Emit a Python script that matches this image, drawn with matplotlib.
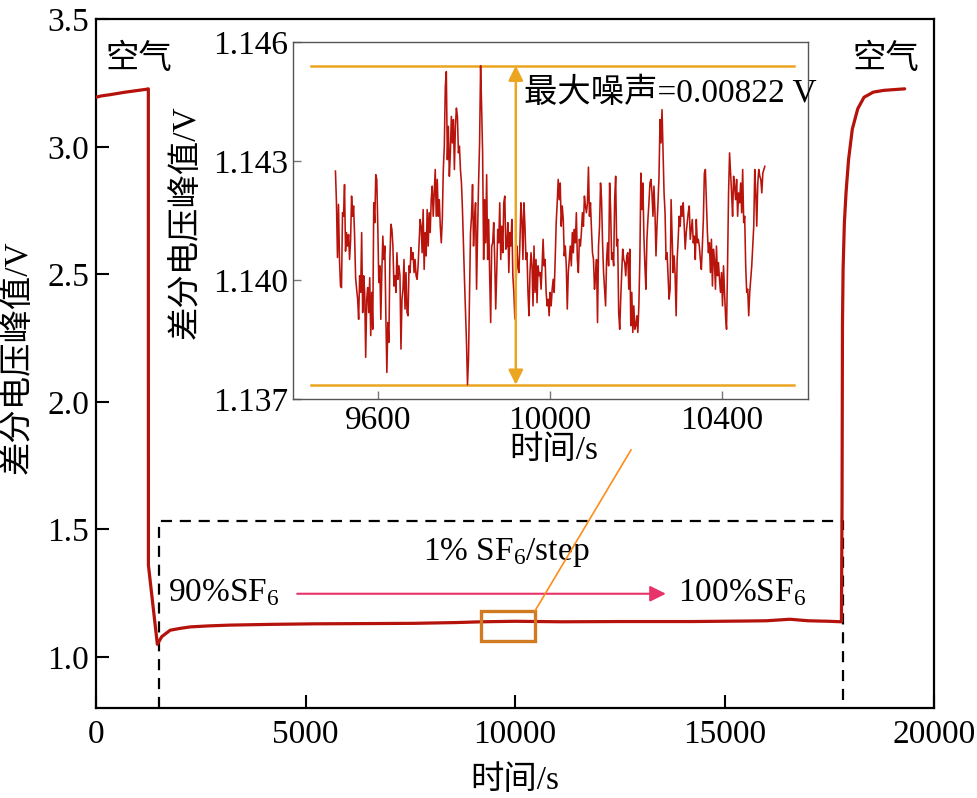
import numpy as np
import matplotlib
matplotlib.use("Agg")
import matplotlib.pyplot as plt
from matplotlib.patches import Rectangle

# ---------------- data ----------------
# main trace (time s, differential peak voltage V)
main_t = [0, 120, 330, 700, 1190, 1248, 1250, 1463, 1570, 1770, 2000, 2250, 2700, 3200,
          4200, 5200, 6500, 7600, 8600, 9200, 10000, 11100, 12500, 14250, 15500, 16000,
          16560, 17000, 17500, 17790, 17805, 17815, 17830, 17860, 17900, 17960, 18050,
          18180, 18330, 18550, 18800, 19300]
main_v = [3.195, 3.200, 3.205, 3.215, 3.226, 3.228, 1.360, 1.050, 1.080, 1.105, 1.112,
          1.118, 1.122, 1.125, 1.128, 1.130, 1.131, 1.132, 1.135, 1.138, 1.140, 1.138,
          1.139, 1.139, 1.141, 1.142, 1.148, 1.142, 1.140, 1.138, 1.60, 2.30, 2.52, 2.70,
          2.82, 2.95, 3.07, 3.15, 3.195, 3.215, 3.222, 3.228]

# inset: noise around 1.140 V, read in mV relative to 1.140 V, 9500 s .. 10500 s
noise_seg1 = [2.75, 1.95, 0.57, 1.91, 0.52, -0.15, -0.19, 1.70, 1.61, 2.41, 0.73, 1.20, 0.86, 1.15,
              0.52, 0.99, 2.12, 1.61, 1.87, 1.11, 0.06, -0.23, -0.48, -0.99, 0.11, -0.31, 1.20,
              -0.82, 0.11, -0.31, -1.95, -0.48, -0.19, -0.82, 0.06, -1.40, -0.31, -1.24, 1.95,
              1.45, 2.66, 2.54, 1.36, -0.06, 0.36, -0.99, 0.19, 1.11, 0.52, 0.86, -0.90, -2.33,
              -1.07, -1.57, 0.52, 1.41, 1.28, 0.86, -0.15, 0.11, -0.31, 0.69, 0.02, 0.36, 0.11,
              -1.74, -0.48, -0.23, 0.52, -0.73, 0.19, -0.82, -0.90, 0.36, 0.19, 0.82, 0.52, 0.69,
              0.19, 0.52, 0.11, 0.02, 0.36, 0.94, 1.53, 1.36, 0.69, 1.78, 0.27, 1.20, 0.61, 1.78,
              0.86, 1.70, 1.20, 2.03, 2.37, 1.61, 2.20, 2.79, 1.61, 2.54]
noise_seg2 = [1.61, 2.03, 1.36, 0.94, 1.53, 2.79, 3.38, 4.89, 5.26, 3.04, 3.88, 2.62, 3.21, 4.13,
              3.46, 4.05, 2.79, 3.88, 4.34, 4.13, 3.21, 3.38, 2.79, 2.45, 1.78, 0.86, 0.02, -0.82,
              -1.57, -2.64, -1.99, -0.31, 1.20, 1.61, 2.41, 0.86, 1.53, 1.95, -0.23, 1.20, 2.45,
              3.46, 5.41, 4.38, 3.21, 0.52, 2.03, 0.94, 2.66, 0.52, 1.53, 0.11, -1.07, 0.86, 0.94,
              1.45, 0.52, -0.73, 0.19, 1.28, 0.94, 1.95, 0.52, 1.36, 0.69, 1.95, 2.12, 0.78, 0.86,
              1.45, 0.19, 1.20, 0.86, 1.53, 0.11, -0.31, -0.98, -0.48, 0.86, 0.36, 0.19, 0.94,
              1.95, 1.53, 0.52, 1.95, 1.36, 0.52, 0.69, -0.31, -0.90, 0.19, 0.69, 0.36, -0.65,
              0.86, -0.31, 0.52, -0.57, 0.36, 0.11, 0.19, -0.23, 0.36, 1.03, 0.36]
noise_seg3 = [0.52, -0.31, -0.65, -0.48, -0.90, -0.31, -0.65, -0.23, 0.02, -0.31, 0.52, 1.45, 1.95,
              2.54, 2.03, 2.45, 1.36, 1.87, 1.53, 0.61, 0.86, 0.36, -0.73, 0.19, 0.52, 0.86, 0.36,
              1.20, 0.69, 1.28, 0.94, 1.70, 0.52, 0.19, 1.03, 0.86, 1.20, 1.70, 1.36, 2.12, 1.87,
              1.70, 1.95, 2.85, 1.61, 1.95, 1.28, 0.69, 0.52, -0.23, 0.11, 0.52, -1.07, 0.86, 1.36,
              2.45, 2.03, 0.94, 0.19, -0.23, -0.65, 0.52, 0.94, 0.36, 2.45, 1.78, 0.52, 0.69, 0.36,
              2.03, 2.62, 0.86, 1.03, -0.82, -1.24, -0.48, 0.19, 0.78, 0.52, 0.44, 0.11, 0.61,
              0.69, -0.23, 0.78, -1.15, -0.31, -1.32, -0.65, -1.24, -1.15, -0.90, -1.32, -0.65,
              0.52, 2.70, 1.78, 2.45, 1.11, 0.36, -0.23, 1.03, 1.53, 1.95, 2.45]
noise_seg4 = [2.54, 2.20, 1.61, 2.37, 1.70, 0.61, 1.36, 1.95, 2.62, 4.05, 3.46, 4.30, 3.21, 2.20,
              1.70, 0.52, 0.69, 0.11, -0.48, -0.23, 2.03, 1.11, 0.19, 0.61, 0.11, -0.90, 0.52, 1.03,
              1.61, 1.36, 1.87, 1.61, 1.95, 1.36, 0.78, 1.20, 1.45, 1.70, 1.87, 1.03, 1.28, 1.53,
              0.94, 1.11, 0.52, 1.53, 0.94, 1.03, 0.86, 0.52, 0.27, 0.86, 1.53, 2.70, 2.79, 2.03,
              1.20, 0.69, 0.94, 0.19, 1.03, -0.15, 0.78, 0.52, -0.23, 0.86, 0.11, 0.44, 0.02,
              -0.31, 0.19, -0.65, 0.36, -0.31, -0.90, -1.24, 0.36, 2.20, 3.21, 2.70, 2.20, 1.61,
              2.62, 2.37, 2.03, 2.54, 1.61, 2.20, 1.95, 2.45, 1.70, 2.79, 1.45, 1.61, 0.36, -0.31,
              -0.23, -0.90, -0.31, 0.02, 0.36, 0.86, 1.36, 2.79, 2.20, 1.36, 2.45, 2.79, 2.62,
              2.54, 2.20, 2.70, 2.79, 2.87]
noise_base = 1.140
noise_t_start, noise_t_end = 9500, 10500
noise_max, noise_min = 1.14541, 1.13736
noise_label = "最大噪声=0.00822 V"

main_xticks = [0, 5000, 10000, 15000, 20000]
main_yticks = [1.0, 1.5, 2.0, 2.5, 3.0, 3.5]
inset_xticks = [9600, 10000, 10400]
inset_yticks = [1.137, 1.140, 1.143, 1.146]

# ---------------- style ----------------
FAM = ["Liberation Serif", "Noto Sans CJK SC", "DejaVu Sans"]
plt.rcParams["font.family"] = FAM
plt.rcParams["mathtext.fontset"] = "custom"
plt.rcParams["mathtext.rm"] = "Liberation Serif"
plt.rcParams["mathtext.it"] = "Liberation Serif:italic"
plt.rcParams["axes.unicode_minus"] = False
FS = 24
RED = "#B4120B"
ORANGE = "#EBA520"

fig = plt.figure(figsize=(9.77, 7.98), dpi=100)
ax = fig.add_axes([0.0983, 0.1128, 0.8577, 0.8628])
ax.plot(main_t, main_v, color=RED, lw=2.3, solid_capstyle="round", zorder=3)
ax.set_xlim(0, 20000)
ax.set_ylim(0.8, 3.5)
ax.set_xticks(main_xticks)
ax.set_yticks(main_yticks)
ax.set_xticklabels([str(v) for v in main_xticks])
ax.set_yticklabels([f"{v:.1f}" for v in main_yticks])
ax.tick_params(direction="in", length=9.5, width=1.5, labelsize=FS, top=False, right=False)
ax.tick_params(axis="x", pad=8)
ax.tick_params(axis="y", pad=5)
for s in ax.spines.values():
    s.set_linewidth(1.6)
ax.set_xlabel("时间/s", fontsize=FS, va="center")
ax.xaxis.set_label_coords(0.5, -0.105)
ax.set_ylabel("差分电压峰值/V", fontsize=FS, va="center")
ax.yaxis.set_label_coords(-0.093, 0.51)

# dashed region
rect_t0, rect_t1, rect_top = 1500, 17830, 1.534
ax.plot([rect_t0, rect_t0, rect_t1, rect_t1], [0.8, rect_top, rect_top, 0.8],
        color="black", lw=1.6, ls=(0, (5, 3.5)), zorder=2)

# annotations
ax.text(1026, 3.345, "空气", fontsize=FS, ha="center", va="center")
ax.text(18854, 3.345, "空气", fontsize=FS, ha="center", va="center")
ax.text(1718, 1.25, "90%SF$_6$", fontsize=FS, ha="left", va="center")
ax.text(13890, 1.25, "100%SF$_6$", fontsize=FS, ha="left", va="center")
ax.text(7804, 1.41, "1% SF$_6$/step", fontsize=FS, ha="left", va="center")
ax.annotate("", xy=(13600, 1.248), xytext=(4800, 1.248),
            arrowprops=dict(arrowstyle="-|>", color="#E8336A", lw=1.5,
                            mutation_scale=24, shrinkA=0, shrinkB=0))
# zoom box and connector
ax.add_patch(Rectangle((9189, 1.064), 10477 - 9189, 1.181 - 1.064, fill=False,
                       edgecolor="#D07A22", lw=2.4, zorder=4))
ax.plot([10477, 12768], [1.181, 1.812], color="#FF8C1A", lw=1.2, zorder=4)

# ---------------- inset ----------------
noise = np.array(noise_seg1 + noise_seg2 + noise_seg3 + noise_seg4)
noise_v = noise_base + noise / 1000.0
noise_t = np.linspace(noise_t_start, noise_t_end, len(noise_v))

axi = fig.add_axes([0.2994, 0.5, 0.5274, 0.447])
axi.plot(noise_t, noise_v, color="#B8140C", lw=1.15, zorder=3)
axi.set_xlim(9400, 10600)
axi.set_ylim(1.137, 1.146)
axi.set_xticks(inset_xticks)
axi.set_yticks(inset_yticks)
axi.set_xticklabels([str(v) for v in inset_xticks])
axi.set_yticklabels([f"{v:.3f}" for v in inset_yticks])
axi.tick_params(direction="in", length=6, width=1.0, color="#777777", labelsize=FS,
                top=False, right=False)
axi.tick_params(axis="x", pad=5)
axi.tick_params(axis="y", pad=3)
for s in axi.spines.values():
    s.set_linewidth(1.0)
    s.set_color("#555555")
axi.set_xlabel("时间/s", fontsize=FS, va="center")
axi.xaxis.set_label_coords(0.507, -0.145)
axi.set_ylabel("差分电压峰值/V", fontsize=FS, va="center")
axi.yaxis.set_label_coords(-0.207, 0.496)

axi.plot([9442, 10568], [noise_max, noise_max], color=ORANGE, lw=1.8, zorder=2)
axi.plot([9442, 10568], [noise_min, noise_min], color=ORANGE, lw=1.8, zorder=2)
axi.annotate("", xy=(9920, noise_max), xytext=(9920, noise_min),
             arrowprops=dict(arrowstyle="<|-|>", color=ORANGE, lw=1.8,
                             mutation_scale=22, shrinkA=0, shrinkB=0), zorder=4)
axi.text(9939, 1.14472, noise_label, fontsize=FS, ha="left", va="center")

fig.savefig("out.png", dpi=100)
